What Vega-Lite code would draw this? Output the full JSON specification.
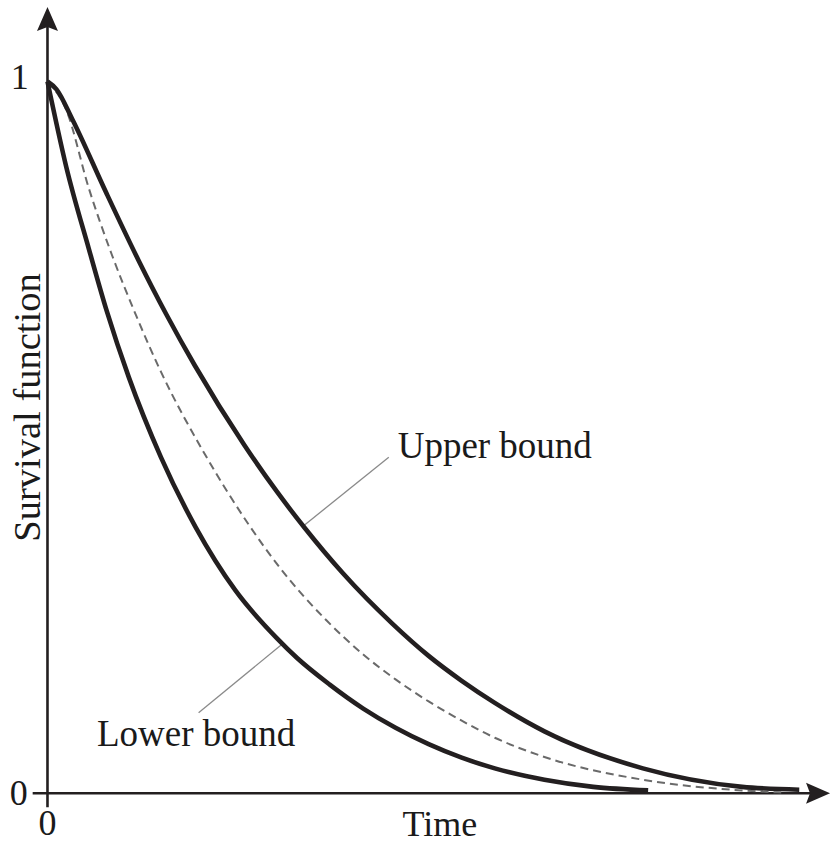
{
  "$schema": "https://vega.github.io/schema/vega-lite/v6.json",
  "width": 831,
  "height": 843,
  "padding": 0,
  "autosize": {"type": "fit", "contains": "padding"},
  "background": "white",
  "config": {"view": {"stroke": null}},
  "datasets": {
    "curves": [
      {"bound": "upper", "t": 0, "s": 1.0},
      {"bound": "upper", "t": 0.012, "s": 0.989},
      {"bound": "upper", "t": 0.033, "s": 0.947},
      {"bound": "upper", "t": 0.078, "s": 0.844},
      {"bound": "upper", "t": 0.121, "s": 0.749},
      {"bound": "upper", "t": 0.158, "s": 0.673},
      {"bound": "upper", "t": 0.196, "s": 0.601},
      {"bound": "upper", "t": 0.262, "s": 0.489},
      {"bound": "upper", "t": 0.305, "s": 0.424},
      {"bound": "upper", "t": 0.342, "s": 0.373},
      {"bound": "upper", "t": 0.393, "s": 0.309},
      {"bound": "upper", "t": 0.459, "s": 0.238},
      {"bound": "upper", "t": 0.507, "s": 0.193},
      {"bound": "upper", "t": 0.551, "s": 0.158},
      {"bound": "upper", "t": 0.595, "s": 0.127},
      {"bound": "upper", "t": 0.661, "s": 0.087},
      {"bound": "upper", "t": 0.792, "s": 0.035},
      {"bound": "upper", "t": 0.924, "s": 0.009},
      {"bound": "upper", "t": 1.0, "s": 0.005},
      {"bound": "lower", "t": 0, "s": 1.0},
      {"bound": "lower", "t": 0.025, "s": 0.88},
      {"bound": "lower", "t": 0.055, "s": 0.765},
      {"bound": "lower", "t": 0.079, "s": 0.677},
      {"bound": "lower", "t": 0.108, "s": 0.585},
      {"bound": "lower", "t": 0.151, "s": 0.472},
      {"bound": "lower", "t": 0.197, "s": 0.374},
      {"bound": "lower", "t": 0.25, "s": 0.285},
      {"bound": "lower", "t": 0.305, "s": 0.218},
      {"bound": "lower", "t": 0.332, "s": 0.19},
      {"bound": "lower", "t": 0.375, "s": 0.153},
      {"bound": "lower", "t": 0.42, "s": 0.119},
      {"bound": "lower", "t": 0.463, "s": 0.092},
      {"bound": "lower", "t": 0.507, "s": 0.069},
      {"bound": "lower", "t": 0.551, "s": 0.05},
      {"bound": "lower", "t": 0.595, "s": 0.035},
      {"bound": "lower", "t": 0.661, "s": 0.019},
      {"bound": "lower", "t": 0.726, "s": 0.009},
      {"bound": "lower", "t": 0.799, "s": 0.004},
      {"bound": "estimate", "t": 0, "s": 1.0},
      {"bound": "estimate", "t": 0.025, "s": 0.96},
      {"bound": "estimate", "t": 0.055, "s": 0.85},
      {"bound": "estimate", "t": 0.0855, "s": 0.757},
      {"bound": "estimate", "t": 0.118, "s": 0.671},
      {"bound": "estimate", "t": 0.151, "s": 0.592},
      {"bound": "estimate", "t": 0.209, "s": 0.477},
      {"bound": "estimate", "t": 0.268, "s": 0.377},
      {"bound": "estimate", "t": 0.309, "s": 0.317},
      {"bound": "estimate", "t": 0.371, "s": 0.243},
      {"bound": "estimate", "t": 0.42, "s": 0.195},
      {"bound": "estimate", "t": 0.463, "s": 0.16},
      {"bound": "estimate", "t": 0.507, "s": 0.129},
      {"bound": "estimate", "t": 0.551, "s": 0.102},
      {"bound": "estimate", "t": 0.595, "s": 0.078},
      {"bound": "estimate", "t": 0.661, "s": 0.051},
      {"bound": "estimate", "t": 0.792, "s": 0.019},
      {"bound": "estimate", "t": 0.924, "s": 0.004},
      {"bound": "estimate", "t": 0.976, "s": 0.001}
    ],
    "axisLines": [
      {"t": -0.0197, "s": 0, "t2": 1.0158, "s2": 0},
      {"t": 0, "s": -0.0196, "t2": 0, "s2": 1.0796}
    ],
    "leaders": [
      {"t": 0.454, "s": 0.472, "t2": 0.342, "s2": 0.377},
      {"t": 0.312, "s": 0.2095, "t2": 0.201, "s2": 0.113}
    ],
    "arrowUp": [{"t": 0, "s": 1.088}],
    "arrowRight": [{"t": 1.025, "s": 0}],
    "tickLabels": [
      {"t": -0.0368, "s": 0.99, "text": "1"},
      {"t": -0.0382, "s": -0.0168, "text": "0"},
      {"t": 0, "s": -0.0587, "text": "0"},
      {"t": 0.522, "s": -0.06, "text": "Time"}
    ],
    "boundLabels": [
      {"t": 0.4658, "s": 0.4707, "text": "Upper bound"},
      {"t": 0.0658, "s": 0.067, "text": "Lower bound"}
    ],
    "yTitle": [{"t": -0.0105, "s": 0.542, "text": "Survival function"}]
  },
  "encoding": {
    "x": {"field": "t", "type": "quantitative", "axis": null,
          "scale": {"domain": [-0.06316, 1.03026], "nice": false, "zero": false}},
    "y": {"field": "s", "type": "quantitative", "axis": null,
          "scale": {"domain": [-0.06285, 1.11453], "nice": false, "zero": false}}
  },
  "layer": [
    {
      "data": {"name": "axisLines"},
      "mark": {"type": "rule", "color": "#231f20", "strokeWidth": 2.6},
      "encoding": {"x2": {"field": "t2"}, "y2": {"field": "s2"}}
    },
    {
      "data": {"name": "arrowUp"},
      "mark": {"type": "point", "filled": true, "opacity": 1, "color": "#231f20", "size": 576,
               "shape": "M0,-1 L0.875,1 L0,0.67 L-0.875,1 Z"},
      "encoding": {}
    },
    {
      "data": {"name": "arrowRight"},
      "mark": {"type": "point", "filled": true, "opacity": 1, "color": "#231f20", "size": 576,
               "shape": "M1,0 L-1,0.875 L-0.67,0 L-1,-0.875 Z"},
      "encoding": {}
    },
    {
      "data": {"name": "leaders"},
      "mark": {"type": "rule", "color": "#8a8a8a", "strokeWidth": 1.3},
      "encoding": {"x2": {"field": "t2"}, "y2": {"field": "s2"}}
    },
    {
      "data": {"name": "curves"},
      "transform": [{"filter": "datum.bound === 'estimate'"}],
      "mark": {"type": "line", "interpolate": "monotone", "color": "#6a6a6a",
               "strokeWidth": 2, "strokeDash": [8, 5]},
      "encoding": {"order": {"field": "t", "type": "quantitative"}}
    },
    {
      "data": {"name": "curves"},
      "transform": [{"filter": "datum.bound !== 'estimate'"}],
      "mark": {"type": "line", "interpolate": "monotone", "color": "#231f20",
               "strokeWidth": 4.6, "strokeCap": "butt", "strokeJoin": "round"},
      "encoding": {
        "detail": {"field": "bound"},
        "order": {"field": "t", "type": "quantitative"}
      }
    },
    {
      "data": {"name": "tickLabels"},
      "mark": {"type": "text", "font": "Liberation Serif", "fontSize": 36,
               "align": "center", "baseline": "alphabetic", "color": "#1a1a1a"},
      "encoding": {"text": {"field": "text"}}
    },
    {
      "data": {"name": "boundLabels"},
      "mark": {"type": "text", "font": "Liberation Serif", "fontSize": 37,
               "align": "left", "baseline": "alphabetic", "color": "#1a1a1a"},
      "encoding": {"text": {"field": "text"}}
    },
    {
      "data": {"name": "yTitle"},
      "mark": {"type": "text", "font": "Liberation Serif", "fontSize": 38.5, "angle": 270,
               "align": "center", "baseline": "alphabetic", "color": "#1a1a1a"},
      "encoding": {"text": {"field": "text"}}
    }
  ]
}
